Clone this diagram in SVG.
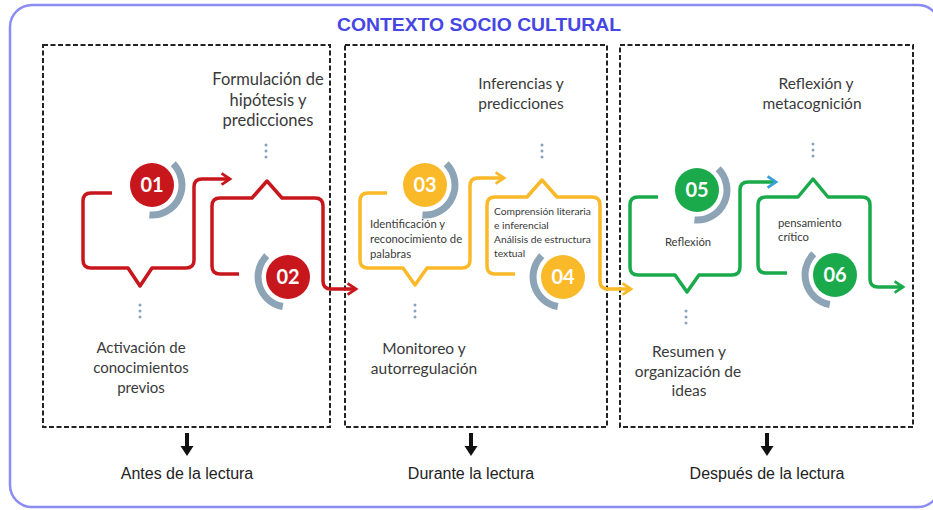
<svg xmlns="http://www.w3.org/2000/svg" width="933" height="510" viewBox="0 0 933 510">
  <style>
    .outer{fill:#fff;stroke:#8c8cf5;stroke-width:2.5}
    .phase{fill:none;stroke:#222;stroke-width:2;stroke-dasharray:5 2.5}
    .title{font-family:"Liberation Sans",Arial,sans-serif;font-weight:bold;font-size:18px;fill:#4646e4}
    .lbl{font-family:Lato,"Open Sans",sans-serif;font-size:15.5px;fill:#3a3a3a}
    .sm{font-family:Lato,"Open Sans",sans-serif;font-size:11.3px;fill:#3a3a3a}
    .bot{font-family:"Liberation Sans",Arial,sans-serif;font-size:16px;fill:#222}
    .num{font-family:Lato,"Open Sans",sans-serif;font-weight:bold;font-size:20px;fill:#fff}
    .dots{stroke:#8aa3bd;stroke-width:3;stroke-linecap:round;stroke-dasharray:0 6}
    .arc{fill:none;stroke:#8da3b6;stroke-width:7}
    .red{fill:none;stroke:#c8161d;stroke-width:3.5;stroke-linejoin:round}
    .yel{fill:none;stroke:#f9b928;stroke-width:3.5;stroke-linejoin:round}
    .grn{fill:none;stroke:#1aaa4b;stroke-width:3.5;stroke-linejoin:round}
  </style>
  <defs>
    <marker id="mr" viewBox="0 0 10 10" refX="8" refY="5" markerWidth="4" markerHeight="4" orient="auto" markerUnits="strokeWidth">
      <path d="M2,1 L8,5 L2,9" fill="none" stroke="#c8161d" stroke-width="2"/>
    </marker>
    <marker id="my" viewBox="0 0 10 10" refX="8" refY="5" markerWidth="4" markerHeight="4" orient="auto" markerUnits="strokeWidth">
      <path d="M2,1 L8,5 L2,9" fill="none" stroke="#f9b928" stroke-width="2"/>
    </marker>
    <marker id="mg" viewBox="0 0 10 10" refX="8" refY="5" markerWidth="4" markerHeight="4" orient="auto" markerUnits="strokeWidth">
      <path d="M2,1 L8,5 L2,9" fill="none" stroke="#1aaa4b" stroke-width="2"/>
    </marker>
    <marker id="mb" viewBox="0 0 10 10" refX="8" refY="5" markerWidth="4" markerHeight="4" orient="auto" markerUnits="strokeWidth">
      <path d="M2,1 L8,5 L2,9" fill="none" stroke="#3aa0dc" stroke-width="2"/>
    </marker>
    <g id="down">
      <rect x="-2" y="0" width="4" height="14" fill="#111"/>
      <path d="M-6.5,13 L6.5,13 L0,23 Z" fill="#111"/>
    </g>
  </defs>

  <rect class="outer" x="10" y="5" width="930" height="502" rx="22"/>
  <text class="title" x="479" y="31" text-anchor="middle" textLength="284" lengthAdjust="spacingAndGlyphs">CONTEXTO SOCIO CULTURAL</text>

  <g id="phase-antes">
    <rect class="phase" x="43" y="45" width="287" height="382"/>
    <use href="#down" x="187" y="433"/>
    <text class="bot" x="187" y="479" text-anchor="middle">Antes de la lectura</text>
  </g>
  <g id="phase-durante">
    <rect class="phase" x="345" y="45" width="262" height="382"/>
    <use href="#down" x="471" y="433"/>
    <text class="bot" x="471" y="479" text-anchor="middle">Durante la lectura</text>
  </g>
  <g id="phase-despues">
    <rect class="phase" x="620" y="45" width="293" height="382"/>
    <use href="#down" x="767" y="433"/>
    <text class="bot" x="767" y="479" text-anchor="middle">Después de la lectura</text>
  </g>

  <g id="connectors">
    <path class="red" marker-end="url(#mr)" d="M112,193 H91 Q83,193 83,201 V260 Q83,268 91,268 H128 L140,286 L152,268 H186 Q194,268 194,260 V187 Q194,179 202,179 H230"/>
    <path class="red" marker-end="url(#mr)" d="M239,274 H220 Q212,274 212,266 V206 Q212,198 220,198 H252 L267,181 L282,198 H315 Q323,198 323,206 V281 Q323,289 331,289 H356"/>
    <path class="yel" marker-end="url(#my)" d="M387,193 H368 Q360,193 360,201 V260 Q360,268 368,268 H403 L415,285 L427,268 H462 Q470,268 470,260 V186 Q470,178 478,178 H504"/>
    <path class="yel" marker-end="url(#my)" d="M515,274 H495 Q487,274 487,266 V205 Q487,197 495,197 H527 L542,180 L557,197 H592 Q600,197 600,205 V281 Q600,289 608,289 H631"/>
    <path class="grn" marker-end="url(#mb)" d="M658,197 H638 Q630,197 630,205 V267 Q630,275 638,275 H675 L687,292 L699,275 H732 Q740,275 740,267 V190 Q740,182 748,182 H776"/>
    <path class="grn" marker-end="url(#mg)" d="M787,273 H766 Q758,273 758,265 V205 Q758,197 766,197 H798 L813,179 L828,197 H862 Q870,197 870,205 V279 Q870,287 878,287 H903"/>
  </g>

  <g id="step-01">
    <path class="arc" d="M173.2,163.8 A30,30 0 0 1 149.4,214.9"/>
    <circle cx="152" cy="185" r="22" fill="#c8161d"/>
    <text class="num" x="152" y="192" text-anchor="middle">01</text>
    <line class="dots" x1="266" y1="145" x2="266" y2="163"/>
    <text class="lbl" text-anchor="middle" style="font-size:16.5px"><tspan x="268" y="85">Formulación de</tspan><tspan x="268" y="106">hipótesis y</tspan><tspan x="268" y="126">predicciones</tspan></text>
    <line class="dots" x1="140" y1="305" x2="140" y2="323"/>
    <text class="lbl" text-anchor="middle" style="font-size:15px"><tspan x="141" y="353">Activación de</tspan><tspan x="141" y="373">conocimientos</tspan><tspan x="141" y="393">previos</tspan></text>
  </g>
  <g id="step-02">
    <path class="arc" d="M282.8,306.5 A30,30 0 0 1 266.8,255.8"/>
    <circle cx="288" cy="277" r="22" fill="#c8161d"/>
    <text class="num" x="288" y="284" text-anchor="middle">02</text>
  </g>

  <g id="step-03">
    <path class="arc" d="M446.2,163.8 A30,30 0 0 1 422.4,214.9"/>
    <circle cx="425" cy="185" r="22" fill="#f9b928"/>
    <text class="num" x="425" y="192" text-anchor="middle">03</text>
    <text class="sm"><tspan x="370" y="228">Identificación y</tspan><tspan x="370" y="243">reconocimiento de</tspan><tspan x="370" y="258">palabras</tspan></text>
    <line class="dots" x1="542" y1="145" x2="542" y2="163"/>
    <text class="lbl" text-anchor="middle"><tspan x="521" y="89">Inferencias y</tspan><tspan x="521" y="109">predicciones</tspan></text>
    <line class="dots" x1="415" y1="305" x2="415" y2="323"/>
    <text class="lbl" text-anchor="middle"><tspan x="424" y="354">Monitoreo y</tspan><tspan x="424" y="374">autorregulación</tspan></text>
  </g>
  <g id="step-04">
    <path class="arc" d="M557.8,306.5 A30,30 0 0 1 541.8,255.8"/>
    <circle cx="563" cy="277" r="22" fill="#f9b928"/>
    <text class="num" x="563" y="284" text-anchor="middle">04</text>
    <text class="sm" style="font-size:10.3px"><tspan x="494" y="215">Comprensión literaria</tspan><tspan x="494" y="229">e inferencial</tspan><tspan x="494" y="243">Análisis de estructura</tspan><tspan x="494" y="257">textual</tspan></text>
  </g>

  <g id="step-05">
    <path class="arc" d="M718.2,168.8 A30,30 0 0 1 694.4,219.9"/>
    <circle cx="697" cy="190" r="22" fill="#1aaa4b"/>
    <text class="num" x="697" y="197" text-anchor="middle">05</text>
    <text class="sm" x="688" y="246" text-anchor="middle">Reflexión</text>
    <line class="dots" x1="813" y1="144" x2="813" y2="162"/>
    <text class="lbl" text-anchor="middle"><tspan x="816" y="89">Reflexión y</tspan><tspan x="812" y="109">metacognición</tspan></text>
    <line class="dots" x1="686" y1="311" x2="686" y2="329"/>
    <text class="lbl" text-anchor="middle"><tspan x="689" y="357">Resumen y</tspan><tspan x="688" y="377">organización de</tspan><tspan x="689" y="396">ideas</tspan></text>
  </g>
  <g id="step-06">
    <path class="arc" d="M829.8,304.5 A30,30 0 0 1 813.8,253.8"/>
    <circle cx="835" cy="275" r="22" fill="#1aaa4b"/>
    <text class="num" x="835" y="282" text-anchor="middle">06</text>
    <text class="sm"><tspan x="778" y="227">pensamiento</tspan><tspan x="778" y="241">crítico</tspan></text>
  </g>
</svg>
